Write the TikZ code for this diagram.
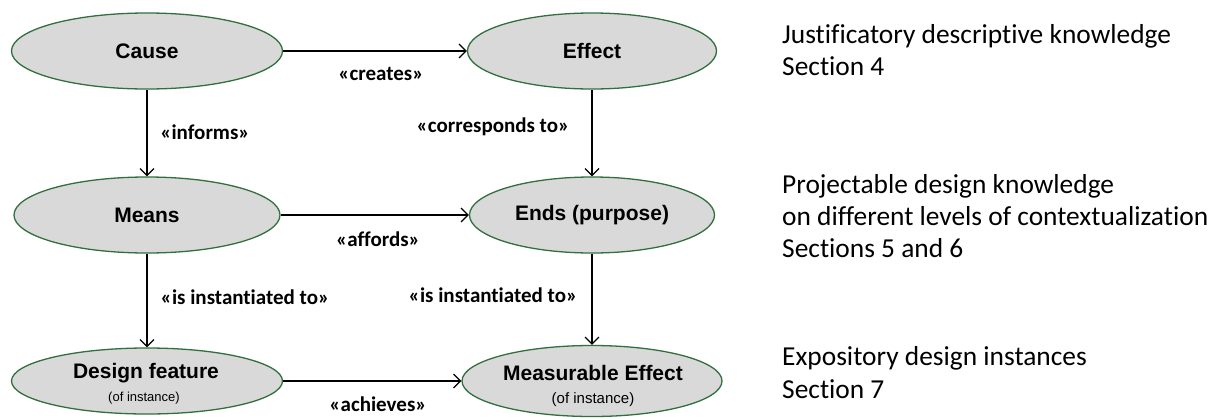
\documentclass[tikz,border=0pt]{standalone}
\usepackage{fontspec}
\setmainfont{Liberation Sans}
\newfontfamily\calfont[Ligatures=NoCommon]{Carlito}
\usetikzlibrary{shapes.geometric,arrows.meta}
\definecolor{ellfill}{RGB}{217,217,217}
\definecolor{elldraw}{RGB}{49,112,62}
\tikzset{
  ell/.style={ellipse,draw=elldraw,fill=ellfill,line width=1.3pt,inner sep=0pt,
    font=\fontsize{21}{24}\selectfont\bfseries,align=center},
  conn/.style={-{Straight Barb[length=7pt,width=14pt,line width=1.2pt]},line width=1.2pt,black},
  rel/.style={font=\calfont\fontsize{21}{24}\selectfont\bfseries,inner sep=0pt},
  side/.style={font=\calfont\fontsize{27.4}{32}\selectfont,anchor=base west,inner sep=0pt},
  small/.style={font=\fontsize{13}{15}\selectfont}
}
\begin{document}
\begin{tikzpicture}[x=1pt,y=-1pt]
\useasboundingbox (0,0) rectangle (1218,418);
% ellipses
\node[ell,minimum width=271pt,minimum height=76pt] (cause) at (147,51) {Cause};
\node[ell,minimum width=249pt,minimum height=76pt] (effect) at (592,51) {Effect};
\node[ell,minimum width=266pt,minimum height=76pt] (means) at (147,215) {Means};
\node[ell,minimum width=245pt,minimum height=76pt] (ends) at (592,215) {Ends (purpose)};
\node[ell,minimum width=271pt,minimum height=66pt] (df) at (147,381) {};
\node[ell,minimum width=260pt,minimum height=71pt] (me) at (592,381) {};
\node[font=\fontsize{21}{24}\selectfont\bfseries,inner sep=0pt] (dft) at (146,373) {Design feature};
\node[small,inner sep=0pt] (dfs) at (144,398) {(of instance)};
\node[font=\fontsize{21}{24}\selectfont\bfseries,inner sep=0pt] (met) at (593,373) {Measurable Effect};
\node[font=\fontsize{15}{17}\selectfont,inner sep=0pt] (mes) at (593,400) {(of instance)};
% connectors
\draw[conn] (cause.east) -- (effect.west);
\draw[conn] (means.east) -- (ends.west);
\draw[conn] (df.east) -- (me.west);
\draw[conn] (cause.south) -- (means.north);
\draw[conn] (effect.south) -- (ends.north);
\draw[conn] (means.south) -- (df.north);
\draw[conn] (ends.south) -- (me.north);
% relation labels
\node[rel] (lcreates) at (381,74) {«creates»};
\node[rel] (linforms) at (205,132) {«informs»};
\node[rel] (lcorr) at (493,127) {«corresponds to»};
\node[rel] (laffords) at (378,239) {«affords»};
\node[rel] (linst1) at (245,297) {«is instantiated to»};
\node[rel] (linst2) at (493,295) {«is instantiated to»};
\node[rel] (lach) at (378,404) {«achieves»};
% side texts
\node[side] (s1a) at (782,43) {Justificatory descriptive knowledge};
\node[side] (s1b) at (782,75) {Section 4};
\node[side] (s2a) at (782,193) {Projectable design knowledge};
\node[side] (s2b) at (782,225) {on different levels of contextualization};
\node[side] (s2c) at (782,257) {Sections 5 and 6};
\node[side] (s3a) at (782,365) {Expository design instances};
\node[side] (s3b) at (782,398) {Section 7};
\end{tikzpicture}
\end{document}
